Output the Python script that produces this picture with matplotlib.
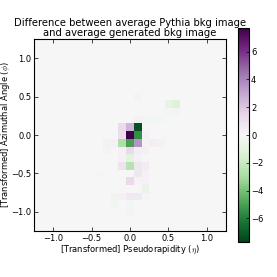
import numpy as np
import matplotlib
matplotlib.use("Agg")
import matplotlib.pyplot as plt

# cells that stand out from the (near-zero) background: eta centre, phi centre, difference
CELL_ETA = [0.0, 0.1, 0.1, 0.0, -0.1, -0.1, -0.1, 0.0, 0.1,
            0.0, 0.1, -0.1, 0.0, 0.1, -0.1, -0.1, 0.0, 0.1, 0.2,
            0.1, 0.2, 0.0, 0.1, 0.2, 0.2, -0.2, -0.1, 0.0, 0.1, 0.2,
            -0.2, 0.0, 0.0, 0.5, 0.6, 0.5, 0.6, 0.1, 0.2, 0.3, 0.4,
            0.2, 0.3, 0.4, 0.2, 0.2, -0.3, -0.2, -0.3, 0.1, -0.4]
CELL_PHI = [0.0, 0.1, 0.0, 0.1, 0.1, 0.0, -0.1, -0.1, -0.1,
            -0.2, -0.2, -0.2, -0.3, -0.3, -0.3, -0.4, -0.4, -0.4, -0.4,
            -0.5, -0.5, -0.6, -0.6, -0.6, -0.7, -0.8, -0.8, -0.8, -0.8, -0.8,
            -0.9, -0.9, -1.0, 0.4, 0.4, 0.3, 0.3, 0.5, 0.2, 0.2, 0.2,
            0.0, -0.1, -0.1, -0.1, -0.2, -0.1, -0.1, -0.2, 0.2, -0.5]
CELL_DIFF = [7.7, -7.3, -5.5, 2.5, 1.2, 1.0, -2.8, -5.0, 3.5,
             1.3, 0.4, 0.3, -1.0, 0.3, 0.3, 0.8, -2.5, 0.7, 0.5,
             0.7, 0.3, 1.3, 0.2, 0.3, -0.7, -0.4, 0.3, 0.6, 0.6, -0.2,
             -0.3, -0.2, -0.3, -0.8, -1.2, -0.2, -0.2, 0.2, -0.2, -0.2, -0.2,
             0.3, 0.4, 0.3, 0.2, 0.3, 0.3, 0.3, 0.2, 0.3, -0.2]

BIN_EDGES = np.linspace(-1.25, 1.25, 26)
X_TICKS = [-1.0, -0.5, 0.0, 0.5, 1.0]
CBAR_TICKS = [-6, -4, -2, 0, 2, 4, 6]

plt.rcParams["mathtext.fontset"] = "cm"
plt.rcParams["xtick.direction"] = "in"
plt.rcParams["ytick.direction"] = "in"

grid, _, _ = np.histogram2d(CELL_ETA, CELL_PHI, bins=[BIN_EDGES, BIN_EDGES], weights=CELL_DIFF)
vmax = np.abs(grid).max()

fig = plt.figure(figsize=(2.77, 2.77), dpi=100)
ax = fig.add_axes([0.1227, 0.166, 0.693, 0.693])
cax = fig.add_axes([0.859, 0.126, 0.0397, 0.773])

im = ax.imshow(grid.T, origin="lower", cmap="PRGn_r", vmin=-vmax, vmax=vmax,
               interpolation="nearest", extent=[-1.25, 1.25, -1.25, 1.25])
ax.set_xticks(X_TICKS)
ax.set_yticks(X_TICKS)
ax.tick_params(labelsize=6.0, top=True, right=True, length=3, width=0.5, pad=2)
for spine in ax.spines.values():
    spine.set_linewidth(0.8)
ax.set_xlabel(r"[Transformed] Pseudorapidity ($\eta$)", fontsize=6.0, labelpad=1)
ax.set_ylabel(r"[Transformed] Azimuthal Angle ($\phi$)", fontsize=6.0)
ax.yaxis.set_label_coords(-0.115, 0.5)
ax.set_title("Difference between average Pythia bkg image\nand average generated bkg image",
             fontsize=7.2, linespacing=1.0, pad=2)

cb = fig.colorbar(im, cax=cax, ticks=CBAR_TICKS)
cb.ax.tick_params(labelsize=6.0, length=2, width=0.5, pad=1.5)
cb.outline.set_linewidth(0.8)

fig.savefig("out.png", dpi=100)
